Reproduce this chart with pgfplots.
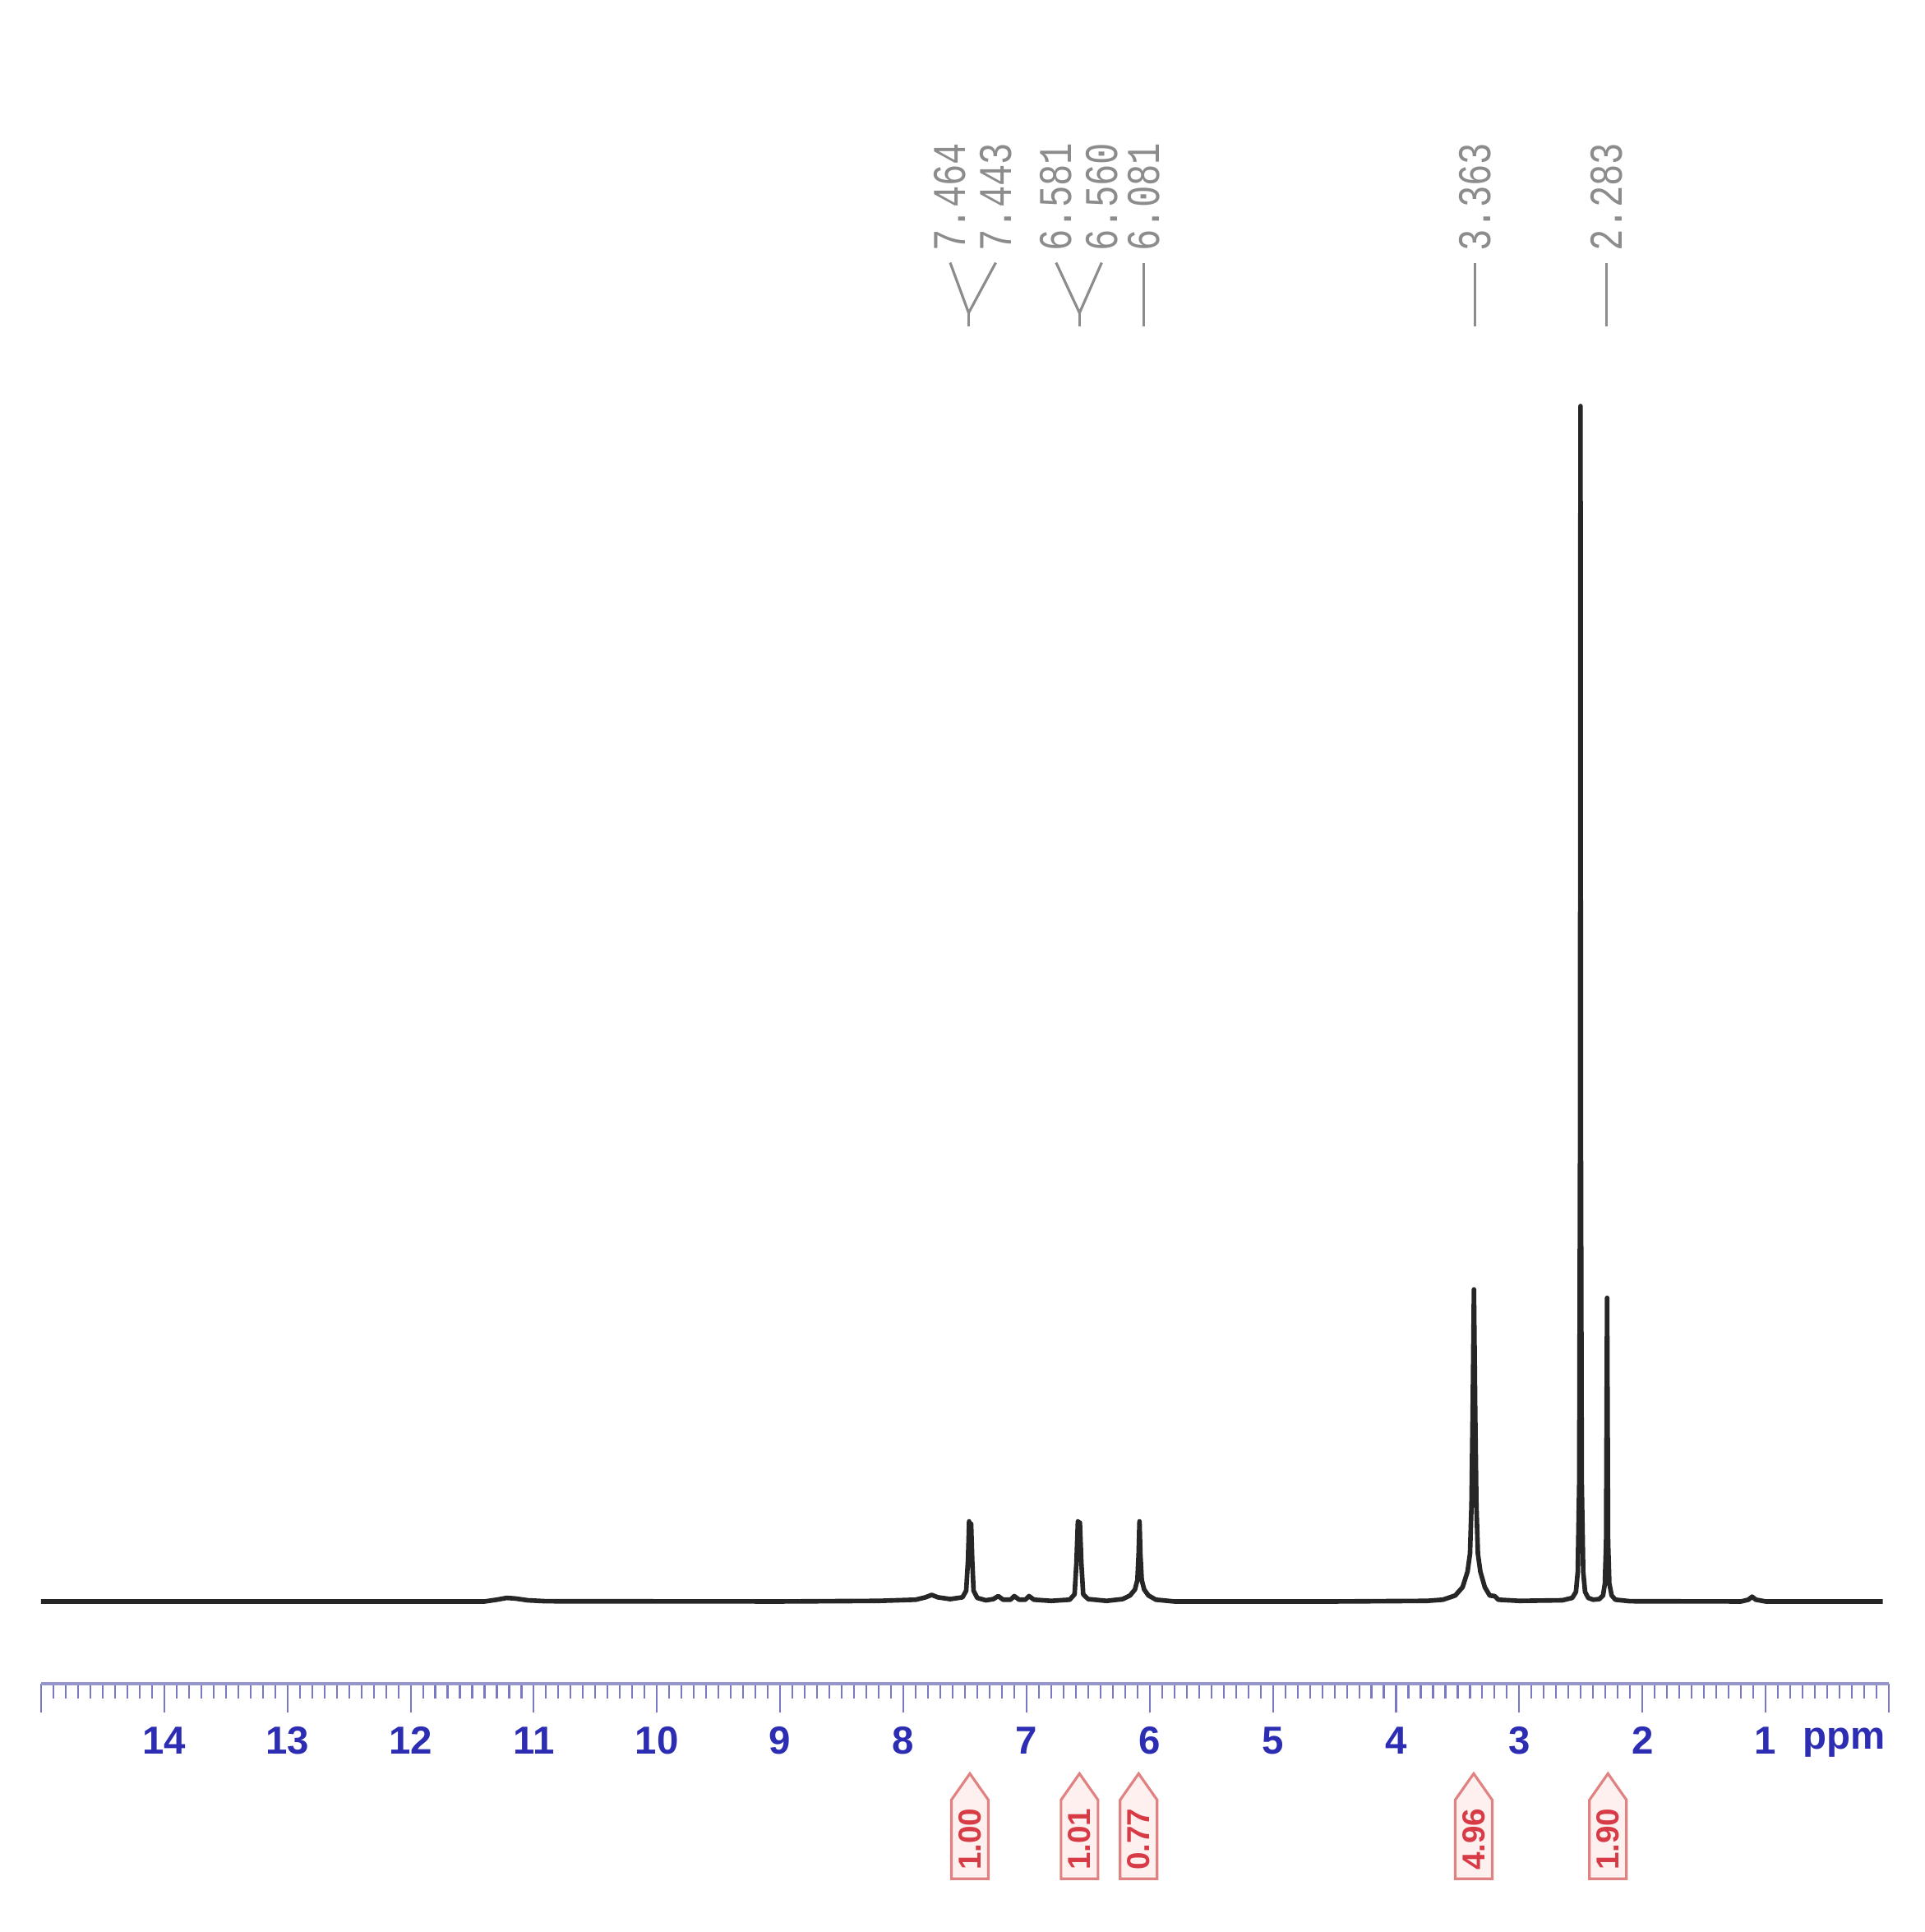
\documentclass[border=0pt]{standalone}
\usepackage{fontspec}
\setmainfont{Liberation Sans}
\newfontfamily\monofont{Liberation Mono}
\usepackage{pgfplots}
\pgfplotsset{compat=1.18}
\definecolor{tickblue}{RGB}{45,45,180}
\definecolor{rulerc}{RGB}{150,150,205}
\definecolor{tickc}{RGB}{120,120,195}
\definecolor{lblgray}{RGB}{140,140,140}
\definecolor{intred}{RGB}{215,60,70}
\definecolor{intline}{RGB}{225,130,130}
\tikzset{
  pklabel/.style={rotate=90, anchor=west, inner sep=0pt, text=lblgray, font=\monofont\fontsize{12.5}{14}\selectfont},
  conn/.style={lblgray, line width=0.9pt},
  intbox/.style={intline, fill=red!6, line width=0.9pt},
  intlabel/.style={rotate=90, inner sep=0pt, text=intred, font=\fontsize{11}{12}\selectfont\bfseries},
}
\begin{document}
\begin{tikzpicture}
\path[use as bounding box] (-5mm,-30.2mm) rectangle (229.2mm,204.8mm);
\begin{axis}[
  at={(0,0)}, anchor=south west,
  width=224.8mm, height=155.4mm, scale only axis,
  xmin=0, xmax=15, ymin=-6.88, ymax=100,
  x dir=reverse,
  axis x line*=bottom, axis y line=none,
  axis line style={rulerc, line width=1.3pt},
  xtick={0,...,15},
  xticklabels={,1,2,3,4,5,6,7,8,9,10,11,12,13,14,},
  minor x tick num=9,
  tick align=outside,
  major tick length=3.5mm, minor tick length=1.8mm,
  every tick/.style={tickc, line width=0.6pt},
  x tick label style={font=\fontsize{13.5}{15}\selectfont\bfseries, text=tickblue, yshift=-0.5mm},
  /pgf/number format/assume math mode=true,
  clip=false,
]
\addplot[black!85, line width=1.6pt, line join=round, no marks] coordinates {
(15.00,0) (13.0,0) (11.40,0) (11.30,0.15) (11.22,0.3) (11.15,0.25) (11.05,0.1) (10.9,0.02)
(9.0,0.0) (8.2,0.05) (7.90,0.15) (7.82,0.35) (7.77,0.55) (7.72,0.35) (7.62,0.2) (7.52,0.35)
(7.49,0.9) (7.475,3.5) (7.466,6.7) (7.458,5.6) (7.450,6.5) (7.441,3.5) (7.43,0.9) (7.40,0.3)
(7.33,0.1) (7.27,0.2) (7.23,0.45) (7.19,0.15) (7.13,0.15) (7.10,0.45) (7.06,0.15) (7.01,0.15)
(6.98,0.45) (6.94,0.15) (6.80,0.05) (6.65,0.15) (6.61,0.6) (6.595,3.2) (6.583,6.7) (6.575,5.6)
(6.567,6.6) (6.555,3.2) (6.54,0.6) (6.50,0.2) (6.35,0.05) (6.22,0.2) (6.16,0.5) (6.12,1.0)
(6.10,1.8) (6.090,4) (6.083,6.7) (6.076,4) (6.065,1.8) (6.045,1.0) (6.01,0.5) (5.95,0.15)
(5.80,0) (4.5,0) (3.75,0.05) (3.62,0.15) (3.52,0.5) (3.46,1.2) (3.42,2.5) (3.40,4)
(3.388,8) (3.378,16) (3.368,26.1) (3.358,16) (3.348,8) (3.336,4) (3.316,2.5) (3.28,1.2)
(3.24,0.5) (3.20,0.45) (3.17,0.15) (3.0,0.05) (2.65,0.1) (2.57,0.3) (2.54,0.8) (2.525,2.5)
(2.513,10) (2.506,40) (2.503,100) (2.500,40) (2.493,10) (2.481,2.5) (2.466,0.8) (2.44,0.3)
(2.40,0.15) (2.35,0.2) (2.32,0.5) (2.305,1.5) (2.295,5) (2.287,25.4) (2.279,5) (2.269,1.5)
(2.25,0.5) (2.22,0.15) (2.10,0.02) (1.20,0) (1.14,0.15) (1.11,0.4) (1.08,0.15) (1.00,0)
(0.05,0)
};
% ppm unit label
\node[font=\fontsize{13.5}{15}\selectfont\bfseries, text=tickblue, anchor=base]
  at (axis cs:0.36,-6.88) [yshift=-7.9mm] {ppm};
% peak labels
\node[pklabel] at (axis cs:7.62,112.9) {\scalebox{1}[1.3]{7.464}};
\node[pklabel] at (axis cs:7.25,112.9) {\scalebox{1}[1.3]{7.443}};
\node[pklabel] at (axis cs:6.76,112.9) {\scalebox{1}[1.3]{6.581}};
\node[pklabel] at (axis cs:6.39,112.9) {\scalebox{1}[1.3]{6.560}};
\node[pklabel] at (axis cs:6.05,112.9) {\scalebox{1}[1.3]{6.081}};
\node[pklabel] at (axis cs:3.36,112.9) {\scalebox{1}[1.3]{3.363}};
\node[pklabel] at (axis cs:2.29,112.9) {\scalebox{1}[1.3]{2.283}};
\draw[conn] (axis cs:7.62,112.0) -- (axis cs:7.47,107.8) -- (axis cs:7.25,112.0);
\draw[conn] (axis cs:7.47,107.8) -- (axis cs:7.47,106.7);
\draw[conn] (axis cs:6.76,112.0) -- (axis cs:6.57,107.8) -- (axis cs:6.39,112.0);
\draw[conn] (axis cs:6.57,107.8) -- (axis cs:6.57,106.7);
\draw[conn] (axis cs:6.05,112.0) -- (axis cs:6.05,106.7);
\draw[conn] (axis cs:3.36,112.0) -- (axis cs:3.36,106.7);
\draw[conn] (axis cs:2.29,112.0) -- (axis cs:2.29,106.7);
% integrals
\draw[intbox] (axis cs:7.46,-14.4) -- (axis cs:7.61,-16.6) -- (axis cs:7.61,-23.2) -- (axis cs:7.31,-23.2) -- (axis cs:7.31,-16.6) -- cycle;
\node[intlabel] at (axis cs:7.46,-19.9) {1.00};
\draw[intbox] (axis cs:6.57,-14.4) -- (axis cs:6.72,-16.6) -- (axis cs:6.72,-23.2) -- (axis cs:6.42,-23.2) -- (axis cs:6.42,-16.6) -- cycle;
\node[intlabel] at (axis cs:6.57,-19.9) {1.01};
\draw[intbox] (axis cs:6.09,-14.4) -- (axis cs:6.24,-16.6) -- (axis cs:6.24,-23.2) -- (axis cs:5.94,-23.2) -- (axis cs:5.94,-16.6) -- cycle;
\node[intlabel] at (axis cs:6.09,-19.9) {0.77};
\draw[intbox] (axis cs:3.37,-14.4) -- (axis cs:3.52,-16.6) -- (axis cs:3.52,-23.2) -- (axis cs:3.22,-23.2) -- (axis cs:3.22,-16.6) -- cycle;
\node[intlabel] at (axis cs:3.37,-19.9) {4.96};
\draw[intbox] (axis cs:2.28,-14.4) -- (axis cs:2.43,-16.6) -- (axis cs:2.43,-23.2) -- (axis cs:2.13,-23.2) -- (axis cs:2.13,-16.6) -- cycle;
\node[intlabel] at (axis cs:2.28,-19.9) {1.90};
\end{axis}
\end{tikzpicture}
\end{document}
